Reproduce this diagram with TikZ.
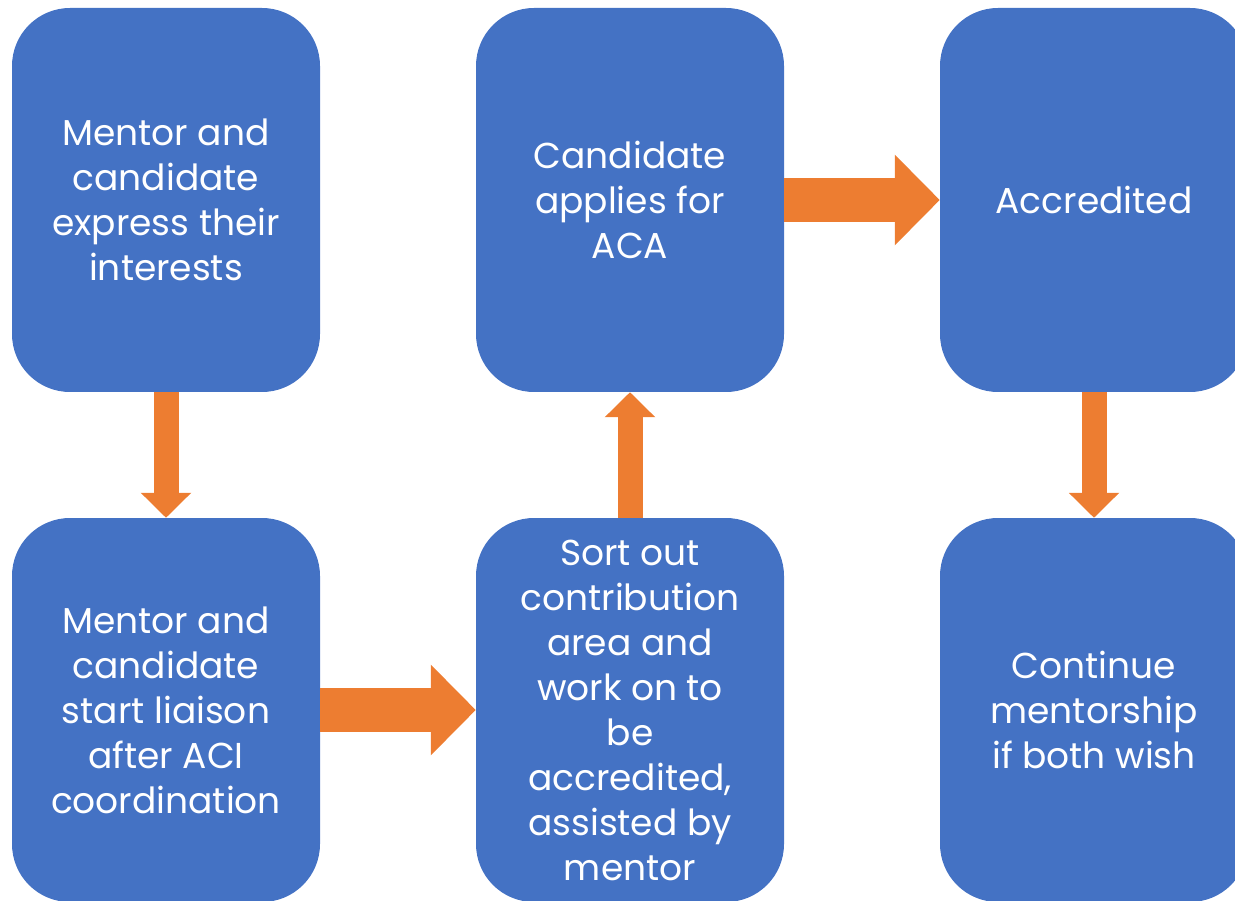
\documentclass[tikz,border=0pt]{standalone}
\usepackage{fontspec}
\setmainfont{Poppins}
\usetikzlibrary{positioning,arrows.meta}

\definecolor{boxblue}{HTML}{4472C4}
\definecolor{flow}{HTML}{ED7D31}

\begin{document}
\begin{tikzpicture}[%
      x=1pt, y=-1pt,                 % one unit is one pixel of the page
      node distance=510pt and 464pt, % centre to centre of the boxes
      ]
  \tikzset{
    base/.style={on grid, align=center, text=white, inner sep=0pt,
      font={\fontsize{36}{45}\selectfont}},
    stage/.style={base, rectangle, rounded corners=58pt, fill=boxblue,
      minimum width=308pt, minimum height=384pt},
    link/.style={draw=flow, line width=25pt,
      -{Triangle[length=25pt, width=49pt]}},
    biglink/.style={draw=flow, line width=44pt,
      -{Triangle[length=45pt, width=88pt]}},
  }
  \useasboundingbox (0,0) rectangle (1235,901);

  % Top row
  \node [stage] at (166,200) (m1) {Mentor and\\candidate\\express their\\interests};
  \node [stage, right=of m1] (m2) {Candidate\\applies for\\ACA};
  \node [stage, right=of m2] (m3) {Accredited};

  % Bottom row
  \node [stage, below=of m1] (m4) {Mentor and\\candidate\\start liaison\\after ACI\\coordination};
  \node [stage, below=of m2] (m5) {Sort out\\contribution\\area and\\work on to\\be\\accredited,\\assisted by\\mentor};
  \node [stage, below=of m3] (m6) {Continue\\mentorship\\if both wish};

  % Flow
  \draw [link]    (m1.south) -- (m4.north);
  \draw [biglink] (m4.east)  -- (m5.west);
  \draw [link]    (m5.north) -- (m2.south);
  \draw [biglink] (m2.east)  -- (m3.west);
  \draw [link]    (m3.south) -- (m6.north);

\end{tikzpicture}
\end{document}
